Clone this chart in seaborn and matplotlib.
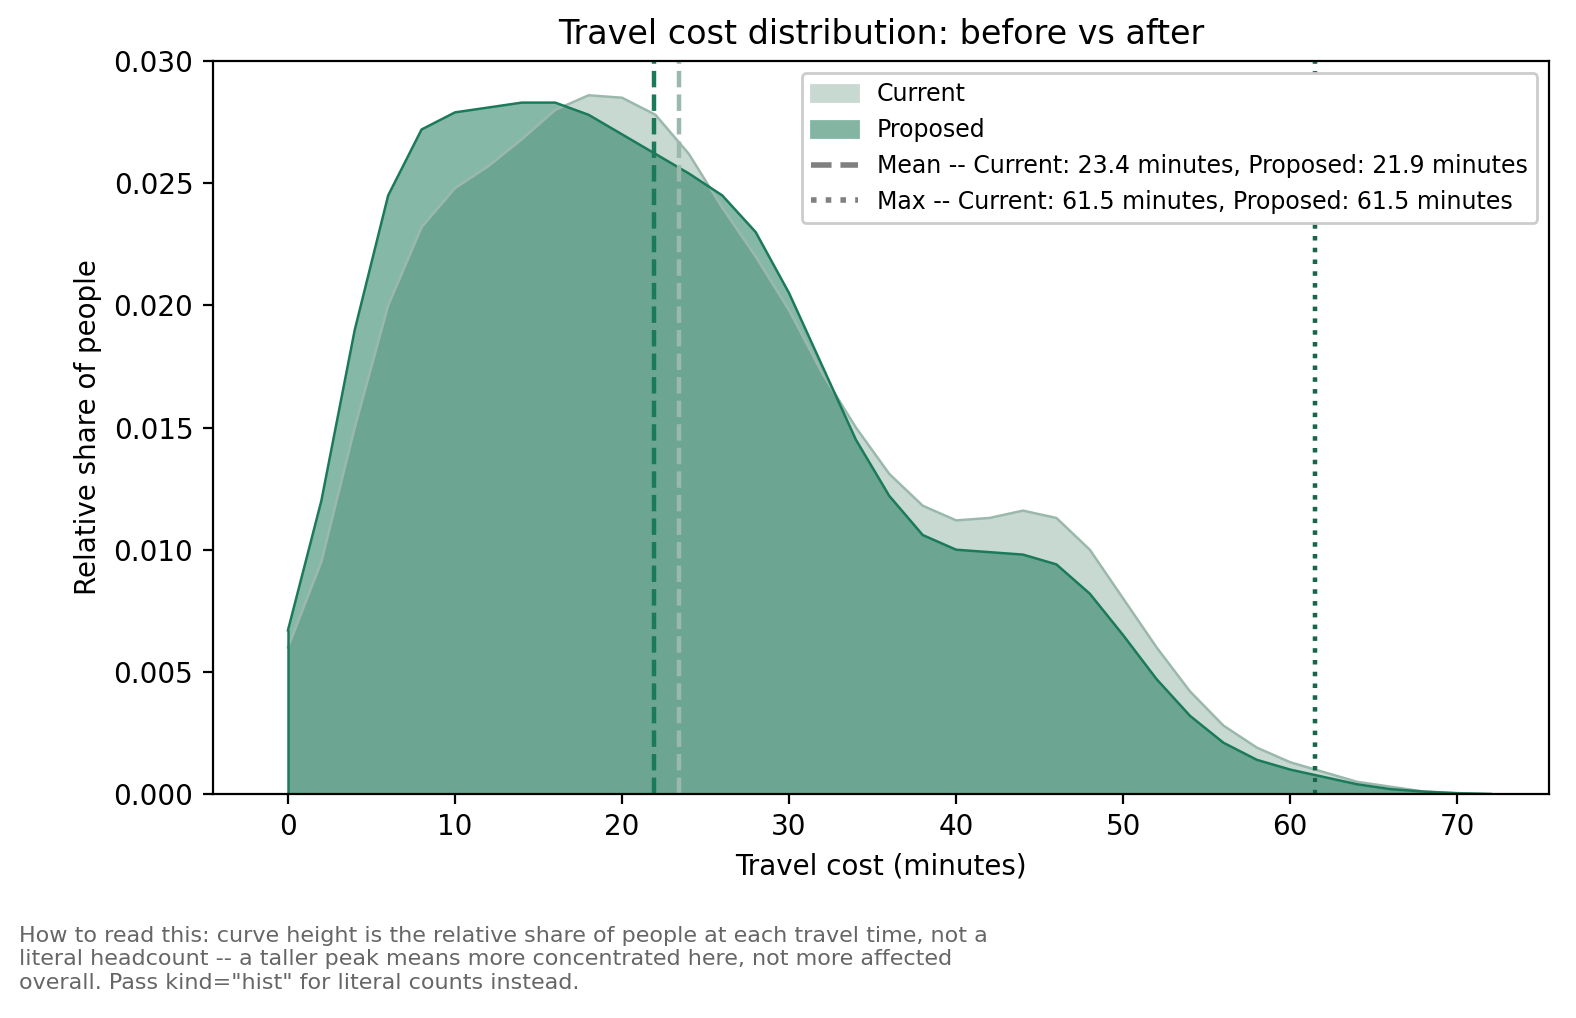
import matplotlib
matplotlib.use("Agg")
import matplotlib.pyplot as plt
import pandas as pd
import seaborn as sns
from matplotlib.lines import Line2D
from matplotlib.patches import Patch

# Density values at 2-minute steps
minutes = list(range(0, 74, 2))
current_density = [0.0060, 0.0095, 0.0150, 0.0200, 0.0232, 0.0248, 0.0257, 0.0268, 0.0280, 0.0286,
                   0.0285, 0.0278, 0.0262, 0.0240, 0.0220, 0.0198, 0.0172, 0.0150, 0.0131, 0.0118,
                   0.0112, 0.0113, 0.0116, 0.0113, 0.0100, 0.0080, 0.0060, 0.0042, 0.0028, 0.0019,
                   0.0013, 0.0009, 0.0005, 0.0003, 0.0001, 0.00004, 0.0]
proposed_density = [0.0067, 0.0120, 0.0190, 0.0245, 0.0272, 0.0279, 0.0281, 0.0283, 0.0283, 0.0278,
                    0.0270, 0.0262, 0.0254, 0.0245, 0.0230, 0.0205, 0.0175, 0.0145, 0.0122, 0.0106,
                    0.0100, 0.0099, 0.0098, 0.0094, 0.0082, 0.0065, 0.0047, 0.0032, 0.0021, 0.0014,
                    0.0010, 0.0007, 0.0004, 0.0002, 0.0001, 0.00003, 0.0]
mean_current, mean_proposed = 23.4, 21.9
max_current, max_proposed = 61.5, 61.5

DARK = "#1b7a5a"
LIGHT_FILL = "#c8d9d2"
LIGHT_LINE = "#9bb8ac"

df = pd.DataFrame({"minutes": minutes, "Current": current_density, "Proposed": proposed_density})

fig, ax = plt.subplots(figsize=(7.88, 5.09), dpi=200)

ax.fill_between(df["minutes"], df["Current"], color=LIGHT_FILL, alpha=1.0, linewidth=0)
sns.lineplot(data=df, x="minutes", y="Current", color=LIGHT_LINE, linewidth=0.9, ax=ax)
ax.fill_between(df["minutes"], df["Proposed"], color=DARK, alpha=0.53, linewidth=0)
sns.lineplot(data=df, x="minutes", y="Proposed", color=DARK, linewidth=0.9, ax=ax)
ax.vlines(0, 0, df["Proposed"].iloc[0], color=DARK, linewidth=0.9)

ax.axvline(mean_proposed, color=DARK, linestyle="--", linewidth=1.6)
ax.axvline(mean_current, color=LIGHT_LINE, linestyle="--", linewidth=1.6)
ax.axvline(max_current, color=LIGHT_FILL, linestyle=":", linewidth=1.6)
ax.axvline(max_proposed, color="#17664c", linestyle=":", linewidth=1.6)

ax.set_xlim(-4.5, 75.5)
ax.set_ylim(0, 0.030)
ax.set_xlabel("Travel cost (minutes)")
ax.set_ylabel("Relative share of people")
ax.set_title("Travel cost distribution: before vs after")

handles = [
    Patch(facecolor=LIGHT_FILL, edgecolor=LIGHT_FILL, label="Current"),
    Patch(facecolor="#84b5a3", edgecolor="#84b5a3", label="Proposed"),
    Line2D([], [], color="grey", linestyle="--", linewidth=2,
           label=f"Mean -- Current: {mean_current} minutes, Proposed: {mean_proposed} minutes"),
    Line2D([], [], color="grey", linestyle=":", linewidth=2,
           label=f"Max -- Current: {max_current} minutes, Proposed: {max_proposed} minutes"),
]
ax.legend(handles=handles, loc="upper right", fontsize=8.5, framealpha=1)

fig.text(0.012, 0.025,
         "How to read this: curve height is the relative share of people at each travel time, not a\n"
         "literal headcount -- a taller peak means more concentrated here, not more affected\n"
         "overall. Pass kind=\"hist\" for literal counts instead.",
         fontsize=8, color="#666666", ha="left", va="bottom")

fig.subplots_adjust(left=0.135, right=0.983, top=0.94, bottom=0.22)
fig.savefig("out.png", dpi=200)
